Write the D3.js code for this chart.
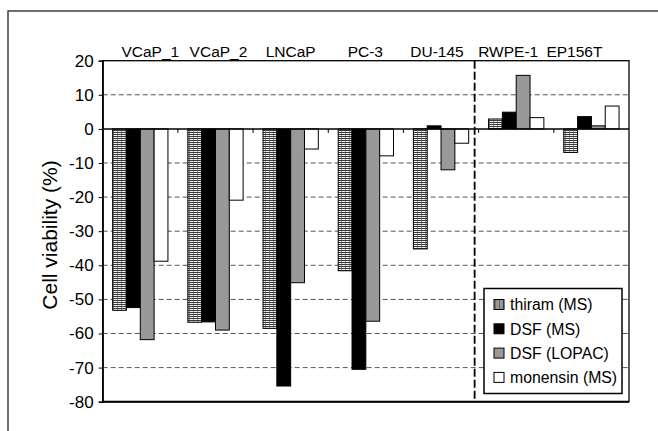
<!DOCTYPE html>
<html>
<head>
<meta charset="utf-8">
<script src="https://cdn.jsdelivr.net/npm/d3@7"></script>
<style>
  body { margin: 0; background: #fff; }
  svg { font-family: "Liberation Sans", Arial, sans-serif; display: block; }
</style>
</head>
<body>
<div id="chart"></div>
<script>
// cell lines, and cell viability (%) for each compound
const categories = ["VCaP_1", "VCaP_2", "LNCaP", "PC-3", "DU-145", "RWPE-1", "EP156T"];
const seriesNames = ["thiram (MS)", "DSF (MS)", "DSF (LOPAC)", "monensin (MS)"];
const thiram   = [-53.2, -56.7, -58.5, -41.6, -35.2,  2.9, -6.9];
const dsf      = [-52.4, -56.6, -75.4, -70.5,   0.9,  4.9,  3.6];
const dsfLopac = [-61.8, -59.0, -45.1, -56.4, -12.0, 15.7,  0.9];
const monensin = [-38.8, -20.9,  -5.9,  -7.9,  -4.2,  3.3,  6.7];
const yTicks = [20, 10, 0, -10, -20, -30, -40, -50, -60, -70, -80];
const separatorBefore = "RWPE-1";   // non-cancer lines to the right

const seriesValues = [thiram, dsf, dsfLopac, monensin];

// label row above the plot is not exactly centred on the groups
const labelNudge = [10, 3, 0, -0.5, -4, -8, -17];

const W = 658, H = 431;
const plot = {left: 102.7, right: 629, top: 60.7, bottom: 401.7};

const svg = d3.select("#chart").append("svg")
    .attr("width", W)
    .attr("height", H);

// patterns / fills
const defs = svg.append("defs");
const pat = defs.append("pattern")
    .attr("id", "hstripe")
    .attr("patternUnits", "userSpaceOnUse")
    .attr("width", 4).attr("height", 2);
pat.append("rect").attr("width", 4).attr("height", 2).attr("fill", "#f2f2f2");
pat.append("rect").attr("width", 4).attr("height", 1).attr("fill", "#3a3a3a");
pat.append("rect").attr("x", 1).attr("y", 1).attr("width", 1).attr("height", 1).attr("fill", "#9a9a9a");

const fills = ["url(#hstripe)", "#000", "#999", "#fff"];

// outer frame (runs off the right and bottom edge)
svg.append("rect")
    .attr("x", 8).attr("y", 11)
    .attr("width", 700).attr("height", 500)
    .attr("fill", "none")
    .attr("stroke", "#222")
    .attr("stroke-width", 1.3);

// scales
const x0 = d3.scaleBand()
    .domain(categories)
    .range([plot.left, plot.right])
    .padding(0);

const x1 = d3.scaleBand()
    .domain(seriesNames)
    .range([0, x0.bandwidth()])
    .paddingInner(0)
    .paddingOuter(0.72);

const y = d3.scaleLinear()
    .domain([-80, 20])
    .range([plot.bottom, plot.top]);

// gridlines
svg.append("g")
    .selectAll("line")
    .data(yTicks.filter(t => t !== 0 && t !== 20 && t !== -80))
    .enter().append("line")
    .attr("x1", plot.left).attr("x2", plot.right)
    .attr("y1", d => y(d)).attr("y2", d => y(d))
    .attr("stroke", "#555")
    .attr("stroke-width", 1)
    .attr("stroke-dasharray", "5,3");

// bars
const groups = svg.append("g")
    .selectAll("g")
    .data(seriesNames)
    .enter().append("g")
    .attr("fill", (d, i) => fills[i]);

groups.selectAll("rect")
    .data((s, i) => seriesValues[i].map((v, j) => ({cat: categories[j], s: s, v: v})))
    .enter().append("rect")
    .attr("x", d => x0(d.cat) + x1(d.s))
    .attr("width", x1.bandwidth())
    .attr("y", d => y(Math.max(0, d.v)))
    .attr("height", d => Math.abs(y(d.v) - y(0)))
    .attr("stroke", "#000")
    .attr("stroke-width", 1);

// zero line with small ticks at group boundaries
svg.append("line")
    .attr("x1", plot.left).attr("x2", plot.right)
    .attr("y1", y(0)).attr("y2", y(0))
    .attr("stroke", "#000")
    .attr("stroke-width", 1.5);

svg.append("g")
    .selectAll("line")
    .data(categories.slice(1))
    .enter().append("line")
    .attr("x1", d => x0(d)).attr("x2", d => x0(d))
    .attr("y1", y(0)).attr("y2", y(0) + 4)
    .attr("stroke", "#000")
    .attr("stroke-width", 1);

// dashed separator between cancer and non-cancer lines
svg.append("line")
    .attr("x1", x0(separatorBefore) - 4).attr("x2", x0(separatorBefore) - 4)
    .attr("y1", plot.top).attr("y2", plot.bottom)
    .attr("stroke", "#000")
    .attr("stroke-width", 1.8)
    .attr("stroke-dasharray", "8,3");

// plot border
svg.append("rect")
    .attr("x", plot.left).attr("y", plot.top)
    .attr("width", plot.right - plot.left)
    .attr("height", plot.bottom - plot.top)
    .attr("fill", "none")
    .attr("stroke", "#000")
    .attr("stroke-width", 1.3);

svg.append("line")
    .attr("x1", plot.left).attr("x2", plot.right)
    .attr("y1", plot.bottom).attr("y2", plot.bottom)
    .attr("stroke", "#000")
    .attr("stroke-width", 2);

// y axis
const yAxis = svg.append("g")
    .attr("transform", `translate(${plot.left},0)`)
    .call(d3.axisLeft(y).tickValues(yTicks).tickSize(4).tickPadding(5).tickFormat(d3.format("d")));
yAxis.select(".domain").attr("stroke", "#000").attr("stroke-width", 1.3);
yAxis.selectAll(".tick line").attr("stroke", "#000");
yAxis.selectAll(".tick text")
    .attr("font-size", 17)
    .attr("font-family", "Liberation Sans, Arial, sans-serif")
    .attr("fill", "#000")
    .text(d => d < 0 ? "-" + Math.abs(d) : d);

svg.append("text")
    .attr("transform", "translate(50,235) rotate(-90)")
    .attr("text-anchor", "middle")
    .attr("dy", "0.35em")
    .attr("font-size", 21)
    .text("Cell viability (%)");

// category labels on top
svg.append("g")
    .selectAll("text")
    .data(categories)
    .enter().append("text")
    .attr("x", (d, i) => x0(d) + x0.bandwidth() / 2 + labelNudge[i])
    .attr("y", 56.5)
    .attr("text-anchor", "middle")
    .attr("font-size", 15.5)
    .text(d => d);

// legend
const legend = svg.append("g")
    .attr("transform", "translate(484,288.5)");

legend.append("rect")
    .attr("width", 138).attr("height", 105)
    .attr("fill", "#fff")
    .attr("stroke", "#000")
    .attr("stroke-width", 1.5);

const items = legend.selectAll("g.item")
    .data(seriesNames)
    .enter().append("g")
    .attr("class", "item")
    .attr("transform", (d, i) => `translate(10,${16 + i * 24.3})`);

items.append("rect")
    .attr("y", -5).attr("width", 10).attr("height", 10)
    .attr("fill", (d, i) => fills[i])
    .attr("stroke", "#000")
    .attr("stroke-width", 1);

items.append("text")
    .attr("x", 16)
    .attr("dy", "0.36em")
    .attr("font-size", 15.8)
    .text(d => d);
</script>
</body>
</html>
